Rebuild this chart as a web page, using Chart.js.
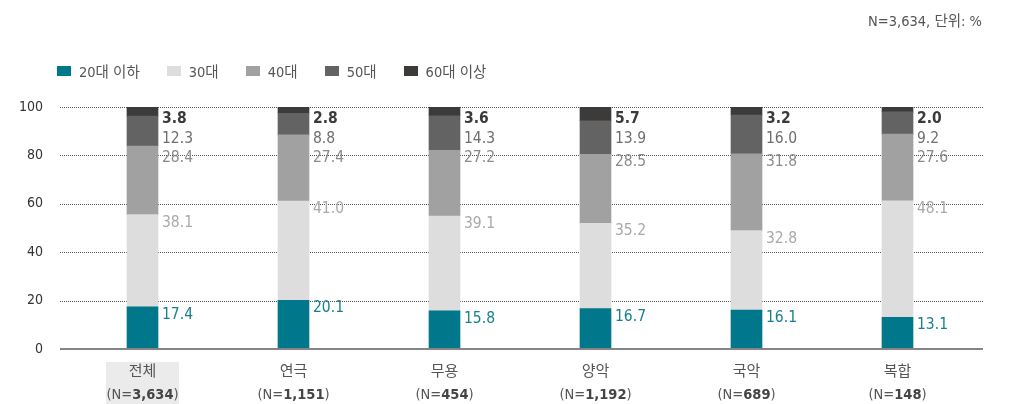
<!DOCTYPE html>
<html lang="ko">
<head>
<meta charset="utf-8">
<script src="https://cdn.jsdelivr.net/npm/chart.js@4.4.0/dist/chart.umd.min.js"></script>
<style>
  body { margin: 0; background: #fff; }
  #wrap { position: relative; width: 1016px; height: 404px; font-family: 'DejaVu Sans Condensed', 'Noto Sans CJK KR', sans-serif; }
  #note { position: absolute; right: 34px; top: 9px; font-size: 14.5px; color: #555; }
  #legend { position: absolute; left: 57px; top: 60px; display: flex; font-size: 14.5px; color: #555; }
  #legend span.item { display: flex; align-items: center; margin-right: 27px; }
  #legend span.box { width: 14px; height: 10px; margin-right: 8px; display: inline-block; }
</style>
</head>
<body>
<div id="wrap">
  <div id="note">N=3,634, 단위: %</div>
  <div id="legend"></div>
  <canvas id="chart" width="1016" height="404"></canvas>
</div>
<script>
// categories and sample sizes
const categories = ['전체', '연극', '무용', '양악', '국악', '복합'];
const sampleSizes = ['3,634', '1,151', '454', '1,192', '689', '148'];

// series (%)
const seriesNames = ['20대 이하', '30대', '40대', '50대', '60대 이상'];
const age20 = [17.4, 20.1, 15.8, 16.7, 16.1, 13.1];
const age30 = [38.1, 41.0, 39.1, 35.2, 32.8, 48.1];
const age40 = [28.4, 27.4, 27.2, 28.5, 31.8, 27.6];
const age50 = [12.3, 8.8, 14.3, 13.9, 16.0, 9.2];
const age60 = [3.8, 2.8, 3.6, 5.7, 3.2, 2.0];

const yTicks = [0, 20, 40, 60, 80, 100];

const barColors = ['#00778a', '#dcdddc', '#a0a1a0', '#636363', '#3d3a3a'];
const labelColors = ['#17808f', '#a9a9a9', '#8a8a8a', '#6e6e6e', '#3a3a3a'];
const FONT = "'DejaVu Sans Condensed', 'Noto Sans CJK KR', sans-serif";

// html legend
const legend = document.getElementById('legend');
seriesNames.forEach((name, i) => {
  const item = document.createElement('span');
  item.className = 'item';
  item.innerHTML = `<span class="box" style="background:${barColors[i]}"></span>${name}`;
  legend.appendChild(item);
});

// dotted grid + baseline, drawn a bit wider than the chart area
const gridPlugin = {
  id: 'grid',
  beforeDatasetsDraw(chart) {
    const { ctx, chartArea, scales: { y } } = chart;
    ctx.save();
    ctx.strokeStyle = '#555';
    ctx.lineWidth = 1;
    ctx.setLineDash([1, 1]);
    yTicks.filter(t => t > 0).forEach(t => {
      const py = Math.round(y.getPixelForValue(t)) + 0.5;
      ctx.beginPath();
      ctx.moveTo(chartArea.left - 7, py);
      ctx.lineTo(chartArea.right + 10, py);
      ctx.stroke();
    });
    ctx.restore();
  },
  afterDatasetsDraw(chart) {
    const { ctx, chartArea, scales: { y } } = chart;
    const py = y.getPixelForValue(0);
    ctx.save();
    ctx.strokeStyle = '#858585';
    ctx.lineWidth = 2;
    ctx.beginPath();
    ctx.moveTo(chartArea.left - 7, py);
    ctx.lineTo(chartArea.right + 10, py);
    ctx.stroke();
    ctx.restore();
  }
};

// value labels to the right of each bar, pushed down so they don't overlap
const valuePlugin = {
  id: 'values',
  afterDatasetsDraw(chart) {
    const { ctx, scales: { y } } = chart;
    ctx.save();
    ctx.textBaseline = 'middle';
    ctx.textAlign = 'left';
    categories.forEach((c, i) => {
      let prev = y.getPixelForValue(100) - 7.5;
      let top = chart.data.datasets.reduce((s, d) => s + d.data[i], 0);
      for (let d = chart.data.datasets.length - 1; d >= 0; d--) {
        const ds = chart.data.datasets[d];
        const bar = chart.getDatasetMeta(d).data[i];
        const segTop = y.getPixelForValue(Math.min(top, 100));
        const cy = Math.max(segTop + 8, prev + 19.5);
        ctx.font = (d === 4 ? 'bold ' : '') + '15.5px ' + FONT;
        ctx.fillStyle = labelColors[d];
        ctx.fillText(ds.data[i].toFixed(1), bar.x + bar.width / 2 + 4, cy);
        prev = cy;
        top -= ds.data[i];
      }
    });
    ctx.restore();
  }
};

// two-line category labels with bold N
const xLabelPlugin = {
  id: 'xlabels',
  afterDraw(chart) {
    const { ctx, scales: { x } } = chart;
    ctx.save();
    categories.forEach((c, i) => {
      const cx = x.getPixelForValue(i);
      if (i === 0) {
        ctx.fillStyle = '#ebebeb';
        ctx.fillRect(cx - 36.5, 362, 73, 42);
      }
      ctx.textBaseline = 'middle';
      ctx.fillStyle = '#555';
      ctx.textAlign = 'center';
      ctx.font = '15px ' + FONT;
      ctx.fillText(c, cx, 372);
      const pre = '(N=', post = ')';
      const fNorm = '14.5px ' + FONT, fBold = 'bold 14.5px ' + FONT;
      ctx.font = fNorm;
      const w1 = ctx.measureText(pre).width, w3 = ctx.measureText(post).width;
      ctx.font = fBold;
      const w2 = ctx.measureText(sampleSizes[i]).width;
      let sx = cx - (w1 + w2 + w3) / 2;
      ctx.textAlign = 'left';
      ctx.font = fNorm; ctx.fillText(pre, sx, 395);
      ctx.font = fBold; ctx.fillStyle = '#444'; ctx.fillText(sampleSizes[i], sx + w1, 395);
      ctx.font = fNorm; ctx.fillStyle = '#555'; ctx.fillText(post, sx + w1 + w2, 395);
    });
    ctx.restore();
  }
};

const series = [age20, age30, age40, age50, age60];

new Chart(document.getElementById('chart'), {
  type: 'bar',
  data: {
    labels: categories,
    datasets: series.map((data, i) => ({
      label: seriesNames[i],
      data: data,
      backgroundColor: barColors[i],
      borderWidth: 0,
      barThickness: 31
    }))
  },
  options: {
    responsive: false,
    animation: false,
    layout: { padding: { top: 107, right: 43, bottom: 55, left: 0 } },
    plugins: {
      legend: { display: false },
      tooltip: { enabled: false }
    },
    scales: {
      x: {
        stacked: true,
        grid: { display: false, drawTicks: false },
        border: { display: false },
        ticks: { display: false }
      },
      y: {
        stacked: true,
        min: 0,
        max: 100,
        afterFit(scale) { scale.width = 67; },
        afterBuildTicks(scale) { scale.ticks = yTicks.map(v => ({ value: v })); },
        grid: { display: false, drawTicks: false },
        border: { display: false },
        ticks: { color: '#333', font: { size: 14, family: FONT }, padding: 24 }
      }
    }
  },
  plugins: [gridPlugin, valuePlugin, xLabelPlugin]
});
</script>
</body>
</html>
